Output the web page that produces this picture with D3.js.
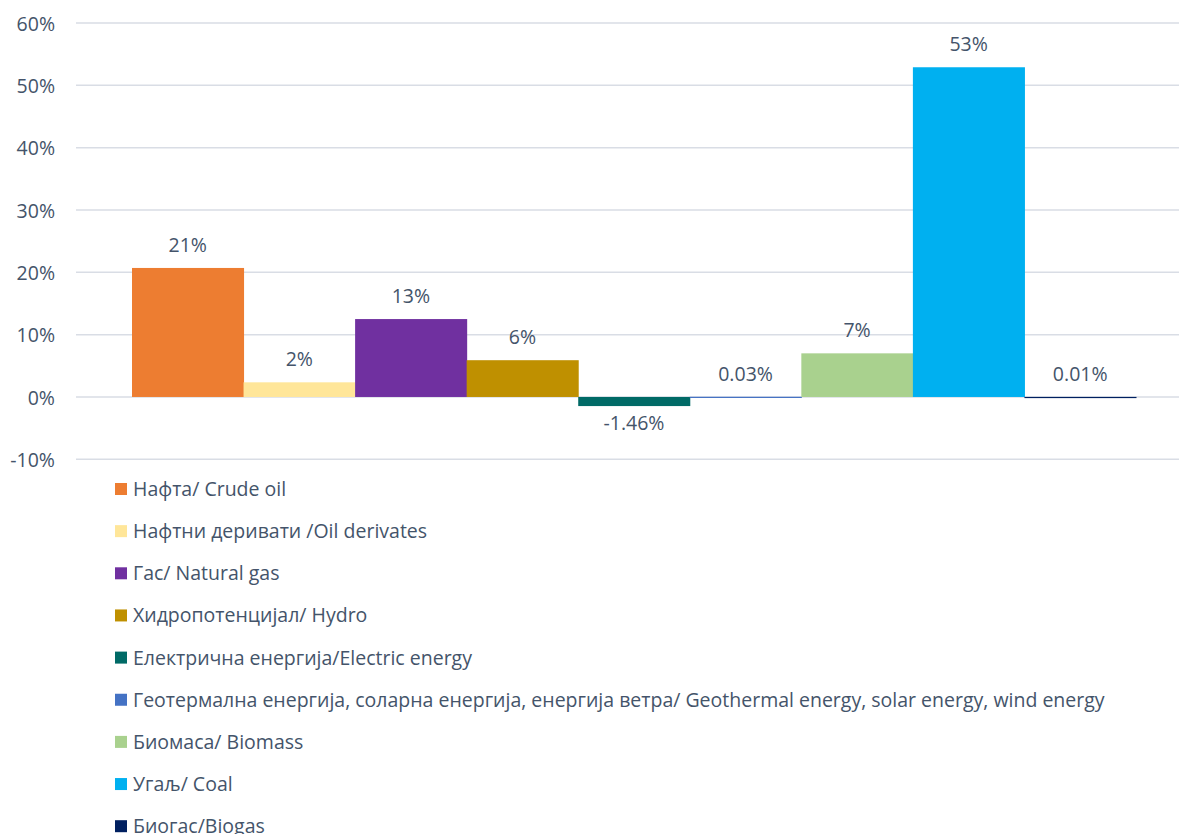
<!DOCTYPE html>
<html><head><meta charset="utf-8">
<script src="https://cdn.jsdelivr.net/npm/d3@7"></script>
<style>body{margin:0;background:#fff}svg{display:block}text{font-family:"Open Sans",Lato,sans-serif;fill:#44546A}</style>
</head><body><svg id="c" width="1179" height="834"></svg>
<script>
const seriesNames = ["Нафта/ Crude oil","Нафтни деривати /Oil derivates","Гас/ Natural gas","Хидропотенцијал/ Hydro","Електрична енергија/Electric energy","Геотермална енергија, соларна енергија, енергија ветра/ Geothermal energy, solar energy, wind energy","Биомаса/ Biomass","Угаљ/ Coal","Биогас/Biogas"];
const values = [20.7, 2.35, 12.5, 5.9, -1.46, 0.03, 7.0, 52.9, 0.01];
const valueLabels = ["21%","2%","13%","6%","-1.46%","0.03%","7%","53%","0.01%"];
const colors = ["#ED7D31","#FFE699","#7030A0","#BF9000","#006A66","#4472C4","#A9D18E","#00B0F0","#002060"];
const yTicks = [-10,0,10,20,30,40,50,60];

const FS = "19.5px";
const svg = d3.select("#c");
const x0 = 76, x1 = 1179;
const y = d3.scaleLinear().domain([-10,60]).range([459.3,23]);
const x = d3.scaleBand().domain(d3.range(values.length)).range([132,1136]).padding(0);

// gridlines
svg.append("g").selectAll("line").data(yTicks).join("line")
  .attr("x1",x0).attr("x2",x1).attr("y1",d=>y(d)).attr("y2",d=>y(d))
  .attr("stroke","#D9DDE5").attr("stroke-width",1.5);

// y axis labels
const yAxis = d3.axisLeft(y).tickValues(yTicks).tickFormat(d=>d+"%").tickSize(0).tickPadding(0);
const ga = svg.append("g").attr("transform","translate(55,0)").call(yAxis);
ga.select(".domain").remove();
ga.selectAll("text").style("font-size",FS).style("font-family","'Open Sans'").attr("fill","#44546A").attr("dy","0.36em");

// bars
svg.append("g").selectAll("rect").data(values).join("rect")
  .attr("x",(d,i)=>x(i)).attr("width",x.bandwidth()+0.5)
  .attr("y",d=>Math.min(y(d),y(0))).attr("height",d=>Math.max(Math.abs(y(d)-y(0)),1.2))
  .attr("fill",(d,i)=>colors[i]);

// value labels
svg.append("g").selectAll("text").data(values).join("text")
  .attr("x",(d,i)=>x(i)+x.bandwidth()/2)
  .attr("y",d=> d>=0 ? y(d)-16 : y(d) + 24)
  .attr("text-anchor","middle").style("font-size",FS)
  .text((d,i)=>valueLabels[i]);

// legend
const lg = svg.append("g").selectAll("g").data(seriesNames).join("g")
  .attr("transform",(d,i)=>`translate(115,${489+i*42.15})`);
lg.append("rect").attr("x",0).attr("y",-6).attr("width",12).attr("height",12).attr("fill",(d,i)=>colors[i]);
lg.append("text").attr("x",18).attr("dy","0.36em").style("font-size",FS).text(d=>d);
</script></body></html>
